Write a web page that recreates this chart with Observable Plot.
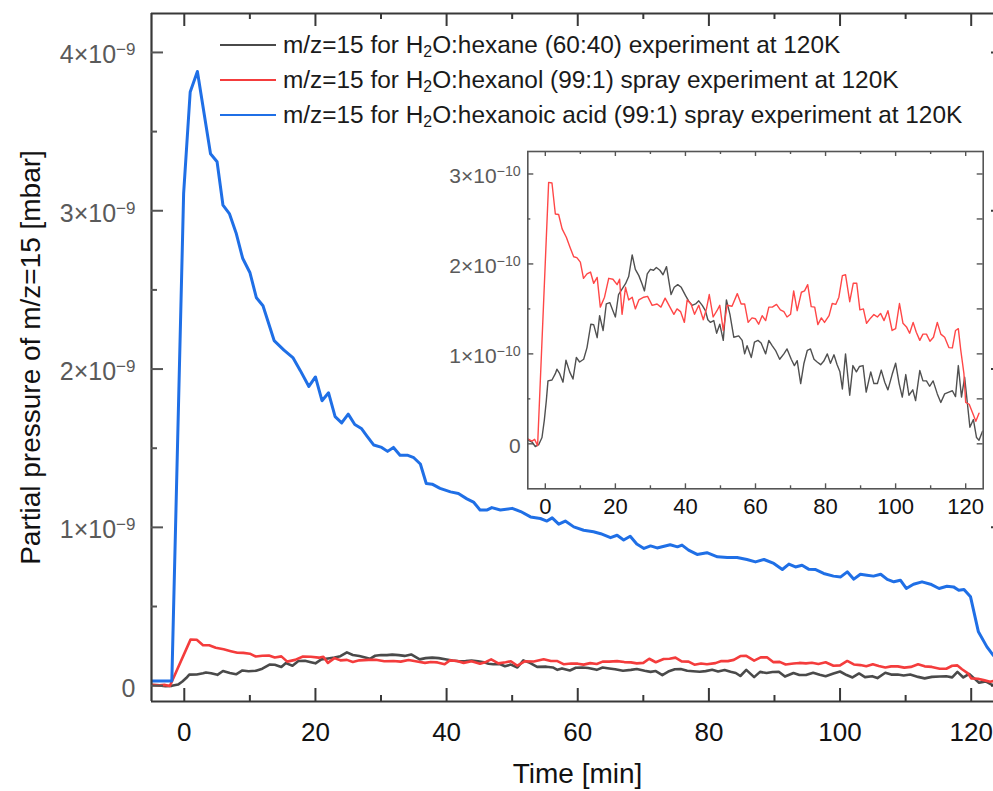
<!DOCTYPE html>
<html><head><meta charset="utf-8">
<script src="https://cdn.jsdelivr.net/npm/d3@7"></script>
<script src="https://cdn.jsdelivr.net/npm/@observablehq/plot@0.6"></script>
<style>
html,body{margin:0;padding:0;background:#fff;overflow:hidden}
#wrap{position:relative;width:993px;height:791px;font-family:"Liberation Sans",Arial,sans-serif}
#main{position:absolute;left:0;top:0}
#inset{position:absolute;left:440px;top:140px}
#legend{position:absolute;left:220px;top:27.5px;font-size:24.4px;color:#1a1a1a}
.row{display:flex;align-items:center;height:35px;white-space:nowrap}
.sw{width:56px;height:2.5px;margin-right:7px;flex:none}
sub{font-size:0.65em;vertical-align:-0.28em;line-height:0}
</style></head><body><div id="wrap"><div id="main"></div><div id="inset"></div><div id="legend"></div></div>
<script>
// ---------- data ----------
// time [min]
const xTicksMajor = [0, 20, 40, 60, 80, 100, 120];
const xTicksMinor = [10, 30, 50, 70, 90, 110];
const yTicksMainMajor = [0, 1e-9, 2e-9, 3e-9, 4e-9];
const yTicksMainMinor = [0.5e-9, 1.5e-9, 2.5e-9, 3.5e-9];
const yTicksInsetMajor = [0, 1e-10, 2e-10, 3e-10];
const yTicksInsetMinor = [0.5e-10, 1.5e-10, 2.5e-10];

const seriesNames = [
  "m/z=15 for H2O:hexane (60:40) experiment at 120K",
  "m/z=15 for H2O:hexanol (99:1) spray experiment at 120K",
  "m/z=15 for H2O:hexanoic acid (99:1) spray experiment at 120K"
];
const seriesColors = ["#4a4a4a", "#f43c3c", "#1f6fe6"];

// hexanoic acid (blue) : [t, value in 1e-9 mbar]
const blueSeries = [[-5,0.03],[-4,0.03],[-3,0.03],[-1.9,0.03],[-0.1,3.11],[0.9,3.75],[2,3.88],[4,3.36],[5,3.31],[5.9,3.035],[6.9,2.98],[7.9,2.86],[8.9,2.70],[10,2.61],[11,2.45],[12,2.40],[13.7,2.18],[15.2,2.12],[16.6,2.07],[17.7,1.99],[19,1.89],[20,1.95],[21,1.80],[22,1.85],[23,1.70],[24,1.66],[25,1.715],[26,1.65],[27,1.625],[27.8,1.58],[28.9,1.52],[30.1,1.505],[31,1.48],[31.9,1.505],[32.9,1.456],[34,1.456],[35,1.44],[36,1.40],[36.9,1.277],[37.8,1.273],[39,1.246],[40.6,1.224],[41.8,1.214],[43.1,1.18],[44.1,1.16],[45.1,1.11],[46.2,1.11],[46.9,1.125],[48.2,1.11],[50,1.12],[51.3,1.10],[52.8,1.066],[54.3,1.056],[55.3,1.04],[56.1,1.06],[57.1,1.02],[58.1,1.04],[59.4,1.003],[60.9,0.982],[62.4,0.972],[63.5,0.96],[65,0.935],[66,0.95],[67,0.92],[68,0.944],[69,0.895],[70.1,0.867],[71.1,0.883],[72.1,0.87],[74.1,0.89],[75.2,0.877],[75.9,0.888],[76.9,0.856],[78.2,0.829],[79.7,0.84],[81.3,0.814],[82.8,0.81],[84.3,0.81],[85.8,0.797],[87.1,0.782],[88.4,0.797],[89.9,0.772],[91.2,0.734],[92.2,0.768],[93.2,0.75],[94.2,0.761],[95.2,0.736],[96.2,0.734],[97.5,0.709],[99,0.692],[100.1,0.687],[101.1,0.719],[102.1,0.673],[103.1,0.704],[104.1,0.698],[105.1,0.692],[106.2,0.704],[107.2,0.671],[108.2,0.656],[109.2,0.666],[110.1,0.614],[111.2,0.641],[112.5,0.656],[113.8,0.641],[115.1,0.614],[116.3,0.628],[117.3,0.624],[118.1,0.603],[118.9,0.608],[119.9,0.561],[121.1,0.34],[122.4,0.245],[123.4,0.19]];

// hexanol (red) : [t, value in 1e-10 mbar]
const redSeries = [[-5,0.055],[-3.8,0.03],[-3.05,0.05],[-2.2,-0.02],[0.95,2.907],[1.9,2.9],[2.86,2.555],[3.8,2.55],[4.8,2.39],[6,2.296],[7.1,2.18],[8.1,2.08],[9,2.07],[10,2.02],[10.9,1.84],[11.9,1.89],[12.9,1.91],[13.8,1.785],[14.8,1.85],[15.7,1.52],[16.9,1.63],[18.1,1.84],[19.3,1.83],[20.5,1.77],[21.2,1.83],[21.9,1.44],[22.9,1.74],[23.8,1.60],[24.8,1.63],[25.7,1.50],[26.7,1.60],[28.1,1.63],[29.2,1.64],[30.5,1.54],[31.9,1.555],[33,1.52],[34.2,1.62],[35.5,1.525],[36.7,1.44],[37.6,1.50],[38.6,1.47],[39.7,1.35],[40.5,1.60],[41.6,1.555],[42.6,1.44],[43.8,1.54],[45.1,1.38],[46,1.50],[46.8,1.66],[47.9,1.41],[49,1.48],[49.8,1.54],[50.8,1.26],[51.9,1.54],[53.3,1.53],[54.8,1.67],[55.9,1.555],[56.9,1.555],[57.9,1.35],[59,1.40],[60,1.39],[60.9,1.33],[61.9,1.425],[62.9,1.37],[63.8,1.52],[64.8,1.52],[66,1.55],[67.1,1.49],[68.1,1.47],[69,1.41],[70,1.44],[70.9,1.70],[71.9,1.48],[73.1,1.685],[74,1.70],[74.9,1.77],[75.9,1.525],[76.9,1.52],[77.8,1.325],[78.8,1.40],[79.7,1.35],[81,1.425],[81.9,1.56],[82.9,1.55],[83.8,1.63],[84.8,1.87],[85.7,1.88],[86.9,1.58],[87.9,1.785],[88.9,1.785],[89.8,1.49],[90.8,1.50],[91.7,1.34],[92.9,1.40],[93.8,1.437],[94.8,1.41],[95.7,1.45],[96.7,1.37],[97.8,1.48],[99,1.26],[100,1.28],[101.1,1.56],[102.1,1.34],[103.1,1.30],[104,1.23],[105,1.35],[105.9,1.24],[106.9,1.15],[107.8,1.22],[108.8,1.22],[109.8,1.14],[110.8,1.185],[111.9,1.35],[112.9,1.22],[114,1.185],[115.2,1.07],[116.2,1.067],[117.1,1.26],[117.9,1.28],[118.6,1.04],[119.5,0.78],[120,0.46],[121,0.44],[121.9,0.35],[122.9,0.25],[123.8,0.34]];

// hexane (black) : [t, value in 1e-10 mbar]
const blackSeries = [[-5,0.04],[-3.8,0.02],[-2.86,-0.03],[-1.9,-0.01],[-0.95,0.07],[-0.29,0.26],[0.29,0.48],[0.76,0.70],[1.9,0.71],[2.86,0.78],[3.3,0.83],[4.1,0.78],[5.05,0.685],[5.9,0.93],[6.95,0.80],[7.9,0.72],[8.86,0.96],[9.8,0.91],[10.95,0.94],[11.9,1.07],[13,1.33],[13.8,1.325],[14.8,1.18],[15.5,1.425],[16.5,1.26],[17.4,1.555],[18.4,1.57],[19.3,1.48],[20,1.41],[20.9,1.66],[21.9,1.72],[22.9,1.78],[23.8,1.86],[24.8,2.10],[25.7,1.94],[26.7,1.87],[27.6,1.78],[28.3,1.70],[29.1,1.89],[30,1.94],[30.9,1.93],[31.7,1.96],[32.7,1.93],[33.6,1.88],[34.6,1.97],[35.9,1.66],[36.8,1.74],[37.8,1.77],[38.8,1.74],[40,1.65],[40.9,1.59],[41.9,1.54],[42.9,1.555],[43.8,1.59],[44.8,1.54],[45.7,1.48],[46.4,1.38],[47.1,1.35],[48.1,1.37],[48.9,1.23],[49.8,1.33],[50.8,1.15],[51.7,1.60],[52.7,1.44],[53.8,1.185],[55.2,1.20],[56.2,1.15],[56.9,1.0],[57.6,1.09],[58.8,0.96],[59.7,1.13],[60.7,1.15],[61.6,1.12],[62.9,1.0],[63.8,1.15],[64.8,1.09],[65.7,1.04],[66.9,0.94],[68.1,1.0],[69,1.055],[70.2,0.94],[71.1,0.87],[71.9,0.925],[72.9,0.67],[73.8,0.89],[74.8,1.04],[75.7,1.055],[76.7,0.94],[77.6,0.91],[78.6,0.88],[79.5,0.92],[80.5,1.0],[81.4,0.896],[82.4,0.99],[83.3,0.88],[84.1,0.80],[84.8,0.61],[85.7,1.0],[86.9,0.54],[87.8,0.87],[88.8,0.80],[89.7,0.86],[90.7,0.87],[91.6,0.575],[92.9,0.80],[93.8,0.67],[94.8,0.67],[95.9,0.82],[96.9,0.685],[97.8,0.60],[99,0.77],[100,0.896],[101,0.67],[101.9,0.52],[102.9,0.77],[103.8,0.54],[104.9,0.60],[105.7,0.48],[106.9,0.815],[107.8,0.70],[108.8,0.70],[109.7,0.64],[110.7,0.70],[111.9,0.555],[112.9,0.46],[114,0.555],[115.2,0.575],[116.2,0.59],[117.1,0.525],[117.9,0.87],[118.8,0.52],[119.7,0.74],[120.5,0.445],[121.2,0.185],[122.2,0.27],[123.1,0.07],[123.8,0.04],[124.8,0.14]];

const xLabel = "Time [min]";
const yLabel = "Partial pressure of m/z=15 [mbar]";

// ---------- build ----------
const FONT = '"Liberation Sans", Arial, sans-serif';
const blue = blueSeries.map(([t, v]) => ({t, v: v * 1e-9}));
const red = redSeries.map(([t, v]) => ({t, v: v * 1e-10}));
const black = blackSeries.map(([t, v]) => ({t, v: v * 1e-10}));

const fmt = (e, p) => d => d === 0 ? "0" : `${Math.round(d / p)}×10^\u2212${e}`;

function superscripts(svg) {
  svg.querySelectorAll("text").forEach(t => {
    const s = t.textContent;
    if (!s.includes("^")) return;
    const [base, exp] = s.split("^");
    while (t.firstChild) t.removeChild(t.firstChild);
    t.appendChild(document.createTextNode(base));
    const ts = document.createElementNS("http://www.w3.org/2000/svg", "tspan");
    ts.setAttribute("dy", "-0.48em");
    ts.style.fontSize = "68%";
    ts.textContent = exp;
    t.appendChild(ts);
  });
}

// main chart
const W = 993, H = 791, mT = 13, mB = 90, mL = 151, mR = 0;
const pw = W - mL - mR, ph = H - mT - mB;
const fc = "#383838";
const xDomainMain = [-5, 123.4];
const yDomainMain = [-0.1e-9, 4.246e-9];

const main = Plot.plot({
  width: W, height: H, marginTop: mT, marginBottom: mB, marginLeft: mL, marginRight: mR,
  style: {fontFamily: FONT, background: "transparent"},
  x: {domain: xDomainMain},
  y: {domain: yDomainMain},
  marks: [
    Plot.line(black, {x: "t", y: "v", stroke: seriesColors[0], strokeWidth: 2.6, clip: true}),
    Plot.line(red, {x: "t", y: "v", stroke: seriesColors[1], strokeWidth: 2.6, clip: true}),
    Plot.line(blue, {x: "t", y: "v", stroke: seriesColors[2], strokeWidth: 3, clip: true}),
    Plot.ruleX([xDomainMain[0]], {stroke: fc, strokeWidth: 2.2}),
    Plot.ruleY([yDomainMain[0]], {stroke: fc, strokeWidth: 2.2}),
    Plot.ruleY([yDomainMain[1]], {stroke: fc, strokeWidth: 2.2}),
    Plot.tickX(xTicksMajor, {x: d => d, insetTop: ph - 13, stroke: fc, strokeWidth: 2}),
    Plot.tickX(xTicksMinor, {x: d => d, insetTop: ph - 6, stroke: fc, strokeWidth: 2}),
    Plot.tickX(xTicksMajor, {x: d => d, insetBottom: ph - 13, stroke: fc, strokeWidth: 2}),
    Plot.tickX(xTicksMinor, {x: d => d, insetBottom: ph - 6, stroke: fc, strokeWidth: 2}),
    Plot.tickY(yTicksMainMajor, {y: d => d, insetRight: pw - 12, stroke: "#555", strokeWidth: 2}),
    Plot.tickY(yTicksMainMinor, {y: d => d, insetRight: pw - 6, stroke: "#555", strokeWidth: 2}),
    Plot.tickY(yTicksMainMajor, {y: d => d, insetLeft: pw - 2, stroke: fc, strokeWidth: 2}),
    Plot.axisX(xTicksMajor, {anchor: "bottom", tickSize: 0, tickPadding: 21, fontSize: 26, color: "#111", label: null}),
    Plot.axisY(yTicksMainMajor, {anchor: "left", tickSize: 0, tickPadding: 16, fontSize: 25, color: "#5a5a5a", dy: 3, tickFormat: fmt(9, 1e-9), label: null}),
    Plot.text([xLabel], {text: d => d, frameAnchor: "bottom", textAnchor: "middle", lineAnchor: "middle", dy: 73, dx: 5, fontSize: 28, fill: "#111"}),
    Plot.text([yLabel], {text: d => d, frameAnchor: "left", textAnchor: "middle", lineAnchor: "middle", rotate: -90, dx: -120, fontSize: 28, fill: "#111"})
  ]
});
superscripts(main);
document.getElementById("main").appendChild(main);

// inset chart
const iW = 553, iH = 390, imL = 87.3, imR = 10.3, imT = 11, imB = 41.7;
const ipw = iW - imL - imR, iph = iH - imT - imB;
const ic = "#555";
const inset = Plot.plot({
  width: iW, height: iH, marginTop: imT, marginBottom: imB, marginLeft: imL, marginRight: imR,
  style: {fontFamily: FONT, background: "transparent"},
  x: {domain: [-5, 125]},
  y: {domain: [-0.5e-10, 3.25e-10]},
  marks: [
    Plot.line(black, {x: "t", y: "v", stroke: "#505050", strokeWidth: 1.4, clip: true}),
    Plot.line(red, {x: "t", y: "v", stroke: "#ff4747", strokeWidth: 1.4, clip: true}),
    Plot.frame({stroke: ic, strokeWidth: 1.6}),
    Plot.tickX(xTicksMajor, {x: d => d, insetTop: iph - 5, stroke: ic, strokeWidth: 1.4}),
    Plot.tickX(xTicksMinor, {x: d => d, insetTop: iph - 3, stroke: ic, strokeWidth: 1.4}),
    Plot.tickX(xTicksMajor, {x: d => d, insetBottom: iph - 5, stroke: ic, strokeWidth: 1.4}),
    Plot.tickX(xTicksMinor, {x: d => d, insetBottom: iph - 3, stroke: ic, strokeWidth: 1.4}),
    Plot.tickY(yTicksInsetMajor, {y: d => d, insetRight: ipw - 6, stroke: ic, strokeWidth: 1.4}),
    Plot.tickY(yTicksInsetMinor, {y: d => d, insetRight: ipw - 3, stroke: ic, strokeWidth: 1.4}),
    Plot.tickY(yTicksInsetMajor, {y: d => d, insetLeft: ipw - 6, stroke: ic, strokeWidth: 1.4}),
    Plot.tickY(yTicksInsetMinor, {y: d => d, insetLeft: ipw - 6, stroke: ic, strokeWidth: 1.4}),
    Plot.axisX(xTicksMajor, {anchor: "bottom", tickSize: 0, tickPadding: 10, fontSize: 22, color: "#111", label: null}),
    Plot.axisY(yTicksInsetMajor, {anchor: "left", tickSize: 0, tickPadding: 7, fontSize: 21, color: "#5a5a5a", dy: 2.5, tickFormat: fmt(10, 1e-10), label: null})
  ]
});
superscripts(inset);
document.getElementById("inset").appendChild(inset);

// legend
const legend = document.getElementById("legend");
seriesNames.forEach((name, i) => {
  const row = document.createElement("div");
  row.className = "row";
  const sw = document.createElement("div");
  sw.className = "sw";
  sw.style.background = seriesColors[i];
  const tx = document.createElement("span");
  tx.innerHTML = name.replace("H2O", "H<sub>2</sub>O");
  row.appendChild(sw);
  row.appendChild(tx);
  legend.appendChild(row);
});
</script></body></html>
